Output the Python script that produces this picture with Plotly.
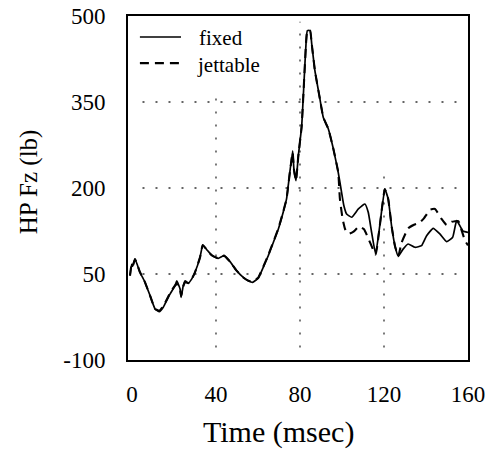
import plotly.graph_objects as go

# Vertical force on the HP over time, fixed vs jettable configuration
t_fixed = [-0.95, -0.16, 0.32, 1.43, 3.8, 6.2, 8.6, 11, 13, 14.9, 16.5, 18.1, 20.5, 21.3, 22.9, 23.4,
           24.4, 25.3, 26.8, 28.4, 30, 32.4, 33.7, 35.6, 37.9, 41.1, 43.8, 46.7, 49.8, 53, 55.4, 57.4,
           60.1, 62.5, 64.9, 67.3, 69.7, 72, 73.6, 74.4, 76.5, 77.1, 78.1, 79.2, 80.8, 81.9, 82.9, 83.5,
           84.8, 85.6, 87.1, 89.5, 91.1, 93.5, 95.9, 98.2, 99.8, 100.9, 102.2, 104.6, 107.8, 110.9,
           112.5, 114.1, 116, 118, 120.4, 122, 123.6, 125.2, 126.8, 129, 131.5, 134.7, 137.9, 140.3,
           143.4, 146.6, 149.8, 152.7, 154.6, 157.7, 160]
fz_fixed = [47, 67, 63.5, 76, 53, 35.5, 12.2, -11, -15.7, -8, 3.5, 15, 29.6, 38, 24, 9.4,
            29.6, 38, 34, 41, 53, 79, 100.6, 92.4, 83, 77.3, 82, 71.5, 55.8, 44, 38.3, 35.5,
            42.5, 61.7, 82, 105, 128.5, 157.6, 181, 204, 265, 233, 213, 256, 308, 384, 454, 474.5,
            474.5, 451, 404.6, 355, 323, 303, 268, 227.4, 192.5, 169, 154.7, 149, 163.4, 172,
            157.6, 122.7, 85, 134.3, 198, 181, 134, 99.4, 81, 93, 102.3, 96.6, 99.4, 116.8,
            129.7, 119.8, 106.4, 114, 143, 124.5, 122.7]

t_jett = [-0.95, -0.16, 0.32, 1.43, 3.8, 6.2, 8.6, 11, 13, 14.9, 16.5, 18.1, 20.5, 21.3, 22.9, 23.4,
          24.4, 25.3, 26.8, 28.4, 30, 32.4, 33.7, 35.6, 37.9, 41.1, 43.8, 46.7, 49.8, 53, 55.4, 57.4,
          60.1, 62.5, 64.9, 67.3, 69.7, 72, 73.6, 74.4, 76.5, 77.1, 78.1, 79.2, 80.8, 81.9, 82.9, 83.5,
          84.8, 85.6, 87.1, 89.5, 91.1, 93.5, 95.9, 98.2, 99.0, 100.3, 101.5, 103, 105.5, 108.2,
          110.5, 113, 116, 118, 120.4, 122, 123.6, 125.2, 126.8, 128.4, 131.5, 134.3, 137.1, 139,
          141.9, 144.3, 147.4, 149.8, 152.2, 155.4, 157, 158.6, 160]
fz_jett = [47, 67, 63.5, 76, 53, 35.5, 12.2, -11, -14, -6, 5, 17, 30, 33, 22, 12,
           28, 36, 34, 41, 53, 79, 100.6, 92.4, 83, 77.3, 82, 71.5, 55.8, 44, 38.3, 36.5,
           43.5, 62.7, 83, 106, 129.5, 158.6, 181, 204, 262, 233, 213, 256, 308, 384, 454, 474.5,
           474.5, 451, 404.6, 355, 323, 303, 268, 227.4, 181, 146, 128, 119.8, 124, 133,
           128, 108, 84, 134.3, 198, 181, 134, 99.4, 81, 105, 129.7, 136, 140, 147,
           162, 163.4, 146, 135.5, 141, 142.4, 125.6, 108, 100]

x_ticks = [0, 40, 80, 120, 160]
y_ticks = [-100, 50, 200, 350, 500]
y_tick_text = ["-100", "50", "200", "350", "500"]

serif = "Liberation Serif, Times New Roman, serif"
line_solid = dict(color="black", width=1.7, shape="spline", smoothing=0.4)
line_dash = dict(color="black", width=2.1, dash="9px,6px", shape="spline", smoothing=0.4)

fig = go.Figure()
fig.add_trace(go.Scatter(x=t_fixed, y=fz_fixed, mode="lines", name="fixed", line=line_solid))
fig.add_trace(go.Scatter(x=t_jett, y=fz_jett, mode="lines", name="jettable", line=line_dash))

axis_common = dict(showline=True, mirror=True, linecolor="black", linewidth=2,
                   showgrid=False, zeroline=False, ticks="", automargin=False,
                   tickfont=dict(family=serif, size=23, color="black"))

fig.update_xaxes(range=[-1.9, 160], tickvals=x_ticks, ticklabelstandoff=12, **axis_common)
fig.update_yaxes(range=[-100, 500], tickvals=y_ticks, ticktext=y_tick_text,
                 ticklabelstandoff=16, **axis_common)

# dotted reference grid, kept clear of the legend box
grid = dict(color="#333", width=1.3, dash="2px,11px")
shapes = []
for gy in [50, 200, 350]:
    shapes.append(dict(type="line", xref="x", yref="y", x0=5, x1=157, y0=gy, y1=gy,
                       line=grid, layer="below"))
for gx, top in [(40, 370), (80, 490), (120, 228)]:
    shapes.append(dict(type="line", xref="x", yref="y", x0=gx, x1=gx, y0=-78, y1=top,
                       line=grid, layer="below"))

# legend: line samples and labels
shapes.append(dict(type="line", xref="paper", yref="paper", x0=0.035, x1=0.156,
                   y0=0.939, y1=0.939, line=dict(color="black", width=1.7)))
shapes.append(dict(type="line", xref="paper", yref="paper", x0=0.035, x1=0.156,
                   y0=0.863, y1=0.863, line=dict(color="black", width=2.1, dash="9px,6px")))

legend_font = dict(family=serif, size=21, color="black")
fig.update_layout(
    width=494, height=459,
    margin=dict(l=128, r=26, t=16, b=99, autoexpand=False),
    paper_bgcolor="white", plot_bgcolor="white",
    showlegend=False,
    shapes=shapes,
    annotations=[
        dict(text="fixed", xref="paper", yref="paper", x=0.204, y=0.935,
             xanchor="left", yanchor="middle", showarrow=False, font=legend_font),
        dict(text="jettable", xref="paper", yref="paper", x=0.196, y=0.859,
             xanchor="left", yanchor="middle", showarrow=False, font=legend_font),
        dict(text="Time (msec)", xref="paper", yref="paper", x=0.444, y=-0.209,
             xanchor="center", yanchor="middle", showarrow=False,
             font=dict(family=serif, size=30, color="black")),
        dict(text="HP Fz (lb)", xref="paper", yref="paper", x=-0.291, y=0.517,
             xanchor="center", yanchor="middle", showarrow=False, textangle=-90,
             font=dict(family=serif, size=25, color="black")),
    ],
)

fig.write_html("out.html")
